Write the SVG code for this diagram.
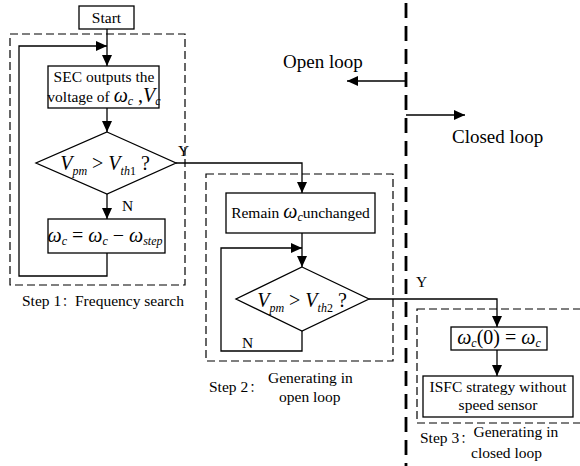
<svg xmlns="http://www.w3.org/2000/svg" width="580" height="466" viewBox="0 0 580 466">
  <style>
    text { font-family: "Liberation Serif", "Times New Roman", serif; fill: #000; }
    .cjk { font-family: "Noto Sans CJK SC", sans-serif; font-size: 12px; }
    .t { font-size: 15.5px; }
    .c { text-anchor: middle; }
    .big { font-size: 19px; }
    .m { font-size: 20px; }
    .i { font-style: italic; }
    .s { font-size: 12px; }
    .box { fill: #fff; stroke: #000; stroke-width: 1.3; }
    .grp { fill: none; stroke: #000; stroke-width: 1.2; stroke-dasharray: 8 4; }
    .div { fill: none; stroke: #000; stroke-width: 2.8; stroke-dasharray: 15 8; }
    .ln { fill: none; stroke: #000; stroke-width: 1.3; }
    .arr { marker-end: url(#ah); }
  </style>
  <defs>
    <marker id="ah" markerUnits="userSpaceOnUse" markerWidth="11" markerHeight="10" refX="11" refY="5" orient="auto">
      <path d="M0,0 L11,5 L0,10 z" fill="#000"/>
    </marker>
  </defs>

  <rect width="580" height="466" fill="#fff"/>

  <!-- open/closed loop boundary -->
  <g id="boundary">
    <line class="div" x1="406" y1="3" x2="406" y2="466"/>
    <text class="big" x="283" y="68">Open loop</text>
    <text class="big" x="452" y="143">Closed loop</text>
  </g>

  <!-- step groupings -->
  <g id="step1">
    <rect class="grp" x="10" y="34" width="175" height="251"/>
    <text class="t" x="22" y="306">Step 1<tspan class="cjk" x="62">：</tspan><tspan x="75">Frequency search</tspan></text>
  </g>
  <g id="step2">
    <rect class="grp" x="206" y="174" width="187" height="187"/>
    <text class="t" x="209" y="392">Step 2<tspan class="cjk" x="249.5">：</tspan></text>
    <text class="t" x="268" y="383">Generating in</text>
    <text class="t" x="279" y="402">open loop</text>
  </g>
  <g id="step3">
    <rect class="grp" x="417" y="309" width="175" height="114"/>
    <text class="t" x="420" y="443">Step 3<tspan class="cjk" x="460.5">：</tspan></text>
    <text class="t" x="473.5" y="437">Generating in</text>
    <text class="t" x="471" y="458">closed loop</text>
  </g>

  <!-- connectors -->
  <g id="connectors">
    <path class="ln arr" d="M107,29 V66"/>
    <path class="ln arr" d="M107,108 V132"/>
    <path class="ln arr" d="M107,194 V219"/>
    <path class="ln arr" d="M107,253 V276 H19 V46 H107"/>
    <path class="ln arr" d="M176,163 H302 V193"/>
    <path class="ln arr" d="M302,233 V267"/>
    <path class="ln arr" d="M302,331 V351 H221 V248 H302"/>
    <path class="ln arr" d="M369,299 H497 V327"/>
    <path class="ln arr" d="M497,350 V376"/>
    <path class="ln arr" d="M406,81 H347"/>
    <path class="ln arr" d="M406,115 H465"/>
    <text class="t" x="122" y="211">N</text>
    <text class="t" x="178" y="156">Y</text>
    <text class="t" x="242" y="348">N</text>
    <text class="t" x="416" y="287">Y</text>
  </g>

  <!-- nodes -->
  <g id="start">
    <rect class="box" x="79" y="6" width="55" height="23"/>
    <text class="t c" x="106.5" y="23">Start</text>
  </g>

  <g id="sec-output">
    <rect class="box" x="48" y="66" width="111" height="42"/>
    <text class="t c" x="104" y="82">SEC outputs the</text>
    <text class="t c" x="104" y="102">voltage of <tspan class="m i">ω</tspan><tspan class="s i" dy="3">c</tspan><tspan class="m" dy="-3"> ,</tspan><tspan class="m i">V</tspan><tspan class="s i" dy="3">c</tspan></text>
  </g>

  <g id="check1">
    <polygon class="box" points="107,132 176,163 107,194 36,163"/>
    <text class="m c" x="105" y="170"><tspan class="i">V</tspan><tspan class="s i" dy="5">pm</tspan><tspan dy="-5"> &gt; </tspan><tspan class="i">V</tspan><tspan class="s i" dy="5">th</tspan><tspan class="s">1</tspan><tspan dy="-5"> ?</tspan></text>
  </g>

  <g id="step-down">
    <rect class="box" x="48" y="219" width="117" height="34"/>
    <text class="m c" x="105" y="242"><tspan class="i">ω</tspan><tspan class="s i" dy="3">c</tspan><tspan dy="-3"> = </tspan><tspan class="i">ω</tspan><tspan class="s i" dy="3">c</tspan><tspan dy="-3"> − </tspan><tspan class="i">ω</tspan><tspan class="s i" dy="3">step</tspan></text>
  </g>

  <g id="remain">
    <rect class="box" x="226" y="193" width="149" height="40"/>
    <text class="t c" x="300.5" y="218">Remain <tspan class="m i">ω</tspan><tspan class="s i" dy="3">c</tspan><tspan dy="-3">unchanged</tspan></text>
  </g>

  <g id="check2">
    <polygon class="box" points="302,267 369,299 302,331 236,299"/>
    <text class="m c" x="302" y="307"><tspan class="i">V</tspan><tspan class="s i" dy="5">pm</tspan><tspan dy="-5"> &gt; </tspan><tspan class="i">V</tspan><tspan class="s i" dy="5">th</tspan><tspan class="s">2</tspan><tspan dy="-5"> ?</tspan></text>
  </g>

  <g id="init">
    <rect class="box" x="451" y="327" width="96" height="23"/>
    <text class="m c" x="499" y="344"><tspan class="i">ω</tspan><tspan class="s i" dy="3">c</tspan><tspan dy="-3">(0) = </tspan><tspan class="i">ω</tspan><tspan class="s i" dy="3">c</tspan></text>
  </g>

  <g id="isfc">
    <rect class="box" x="423" y="376" width="150" height="41"/>
    <text class="t c" x="498" y="392">ISFC strategy without</text>
    <text class="t c" x="498" y="410">speed sensor</text>
  </g>
</svg>
